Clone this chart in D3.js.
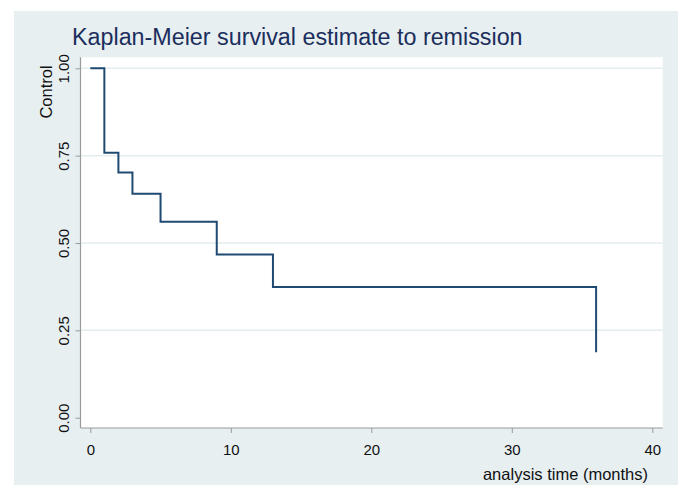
<!DOCTYPE html>
<html><head><meta charset="utf-8">
<script src="https://cdn.jsdelivr.net/npm/d3@7"></script>
<style>
html,body{margin:0;padding:0;background:#fff;}
svg{display:block;font-family:"Liberation Sans",Arial,sans-serif;}
</style></head>
<body>
<svg id="c" width="683" height="487"></svg>
<script>
const times = [0, 1, 2, 3, 5, 9, 13, 36];
const survival = [1.0, 0.758, 0.702, 0.641, 0.561, 0.467, 0.374, 0.187];
const xTicks = [0, 10, 20, 30, 40];
const yTicks = [0, 0.25, 0.5, 0.75, 1.0];
const titleText = "Kaplan-Meier survival estimate to remission";
const yTitle = "Control";
const xTitle = "analysis time (months)";

const svg = d3.select("#c");
// outer graph region
svg.append("rect").attr("x",14).attr("y",11).attr("width",664).attr("height",474).attr("fill","#e7eff1");
const plot = {l:80.5, r:662.7, t:57.3, b:428};
svg.append("rect").attr("x",plot.l).attr("y",plot.t).attr("width",plot.r-plot.l).attr("height",plot.b-plot.t).attr("fill","#ffffff");

const x = d3.scaleLinear().domain([0,40]).range([90.3,652.3]);
const y = d3.scaleLinear().domain([0,1]).range([417.7,68.3]);

// gridlines
svg.append("g").selectAll("line").data(yTicks.filter(d=>d>0)).join("line")
  .attr("x1",plot.l).attr("x2",plot.r)
  .attr("y1",d=>y(d)).attr("y2",d=>y(d))
  .attr("stroke","#e3edf0").attr("stroke-width",1.5);

// y axis
const ya = svg.append("g").attr("transform",`translate(${plot.l},0)`)
  .call(d3.axisLeft(y).tickValues(yTicks).tickFormat(d3.format(".2f")).tickSize(5).tickSizeOuter(0));
ya.select(".domain").remove();
ya.selectAll(".tick line").attr("stroke","#9a9a9a");
ya.selectAll(".tick text")
  .attr("transform","rotate(-90)")
  .attr("x",0).attr("y",-12).attr("dy",0)
  .attr("text-anchor","middle")
  .style("font-size","15px").attr("fill","#111")
  .style("font-family","Liberation Sans, Arial, sans-serif");
svg.append("line").attr("x1",plot.l).attr("x2",plot.l).attr("y1",plot.t).attr("y2",plot.b)
  .attr("stroke","#9a9a9a").attr("stroke-width",1.2);

// x axis
const xa = svg.append("g").attr("transform",`translate(0,${plot.b})`)
  .call(d3.axisBottom(x).tickValues(xTicks).tickFormat(d3.format("d")).tickSize(5).tickSizeOuter(0));
xa.select(".domain").remove();
xa.selectAll(".tick line").attr("stroke","#9a9a9a");
xa.selectAll(".tick text").attr("y",21).attr("dy",0)
  .attr("transform","translate(0,6)")
  .style("font-size","15px").attr("fill","#111")
  .style("font-family","Liberation Sans, Arial, sans-serif");
svg.append("line").attr("x1",plot.l).attr("x2",plot.r).attr("y1",plot.b).attr("y2",plot.b)
  .attr("stroke","#9a9a9a").attr("stroke-width",1.2);

// KM step line
const pts = times.map((t,i)=>[t,survival[i]]);
svg.append("path").datum(pts)
  .attr("d", d3.line().x(d=>x(d[0])).y(d=>y(d[1])).curve(d3.curveStepAfter))
  .attr("fill","none").attr("stroke","#1f4a72").attr("stroke-width",2);

// titles
svg.append("text").attr("x",72).attr("y",45).text(titleText)
  .style("font-size","23.3px").attr("fill","#1c2e5c");
svg.append("text").attr("transform","translate(51.5,92) rotate(-90)").attr("text-anchor","middle")
  .text(yTitle).style("font-size","16.5px").attr("fill","#111");
svg.append("text").attr("x",648).attr("y",480).attr("text-anchor","end")
  .text(xTitle).style("font-size","16.5px").attr("fill","#111");
</script>
</body></html>
